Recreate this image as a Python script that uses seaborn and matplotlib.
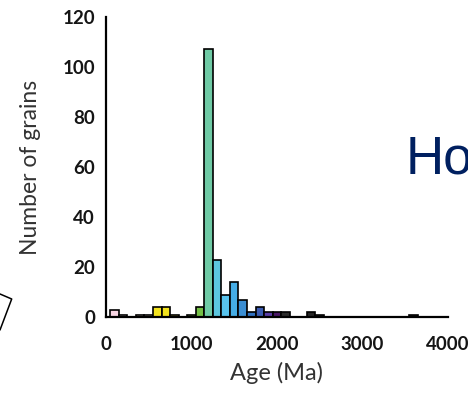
import numpy as np
import pandas as pd
import seaborn as sns
import matplotlib.pyplot as plt
from matplotlib.lines import Line2D

# Detrital zircon ages: bin centres (Ma) and grain counts per 100 Ma bin
ages = [100, 200, 300, 400, 500, 600, 700, 800, 900, 1000,
        1100, 1200, 1300, 1400, 1500, 1600, 1700, 1800, 1900, 2000,
        2100, 2200, 2300, 2400, 2500, 2600, 2700, 2800, 2900, 3000,
        3100, 3200, 3300, 3400, 3500, 3600]
counts = [3, 1, 0, 1, 1, 4, 4, 1, 0, 1,
          4, 107, 23, 9, 14, 7, 2, 4, 2, 2,
          2, 0, 0, 2, 1, 0, 0, 0, 0, 0,
          0, 0, 0, 0, 0, 1]
bar_colors = ["#f7d4e2", "#f3e6ea", "#f3e6ea", "#f5eccd", "#f5eccd",
              "#f2e21e", "#f2e21e", "#e8d838", "#c9d842", "#8cc63f",
              "#74bf45", "#6fcaa5", "#5cc6df", "#58c4ee", "#45ade6",
              "#3a8ed3", "#2f70c0", "#3b5cb3", "#5a3ca6", "#4a1766",
              "#2b2b2b"] + ["#262626"] * 15

x_ticks = [0, 500, 1000, 1500, 2000, 2500, 3000, 3500, 4000]
x_labels = ["0", "", "1000", "", "2000", "", "3000", "", "4000"]
y_ticks = [0, 20, 40, 60, 80, 100, 120]

df = pd.DataFrame({"age": ages, "n": counts})

sns.set_style("white")
plt.rcParams["font.family"] = ["Lato", "DejaVu Sans"]

fig = plt.figure(figsize=(4.68, 3.94), dpi=100)
ax = fig.add_axes([0.2265, 0.1954, 0.7305, 0.7615])

sns.histplot(data=df, x="age", weights="n", binwidth=100, binrange=(50, 3650),
             ax=ax, edgecolor="black", linewidth=1.2, alpha=1)
for patch, c in zip(ax.patches, bar_colors):
    patch.set_facecolor(c)

ax.set_xlim(0, 4000)
ax.set_ylim(0, 120)
ax.set_xticks(x_ticks)
ax.set_xticklabels(x_labels)
ax.set_yticks(y_ticks)
ax.tick_params(axis="both", direction="out", length=4, width=1.6, color="black",
               labelsize=13.5)
ax.tick_params(axis="x", pad=10)
ax.tick_params(axis="y", pad=4)
for lab in ax.get_xticklabels() + ax.get_yticklabels():
    lab.set_fontweight("bold")
    lab.set_color("#151515")

sns.despine(ax=ax)
for side in ["left", "bottom"]:
    ax.spines[side].set_linewidth(1.6)
    ax.spines[side].set_color("black")

ax.set_xlabel("Age (Ma)", fontsize=17, color="#333333", labelpad=6)
ax.set_ylabel("Number of grains", fontsize=16.5, color="#333333", labelpad=15)

# slide fragments cropped into the picture
fig.text(406 / 468, 1 - 173 / 394, "Ho", fontsize=38, color="#002060",
         family="Liberation Sans", ha="left", va="baseline")
fig.add_artist(Line2D([0, 11.7 / 468, 0],
                      [1 - 294 / 394, 1 - 299 / 394, 1 - 330 / 394],
                      transform=fig.transFigure, color="black", lw=1.1))

fig.savefig("out.png", dpi=100)
